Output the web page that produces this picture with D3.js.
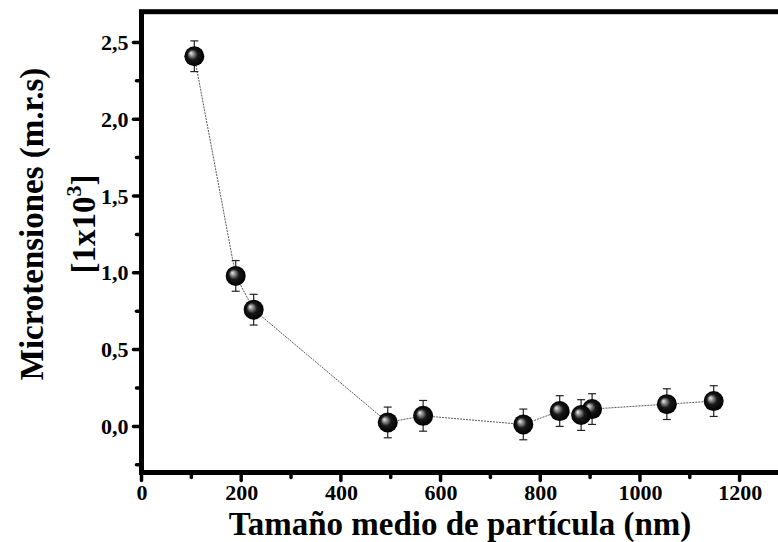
<!DOCTYPE html>
<html>
<head>
<meta charset="utf-8">
<script src="https://cdn.jsdelivr.net/npm/d3@7"></script>
<style>
  html, body { margin: 0; padding: 0; background: #fff; }
  svg { display: block; }
  text { font-family: "Liberation Serif", "Times New Roman", serif; font-weight: bold; fill: #000; }
</style>
</head>
<body>
<svg id="chart" width="778" height="542"></svg>
<script>
// Mean particle size (nm)
const particleSize = [106, 189, 225, 494, 565, 766, 839, 882, 904, 1054, 1148];
// Microstrain (r.m.s.), in units of 1x10^3
const microstrain = [2.41, 0.98, 0.76, 0.026, 0.069, 0.013, 0.10, 0.074, 0.113, 0.145, 0.165];
// Error bar half-widths
const microstrainErr = [0.1, 0.1, 0.1, 0.1, 0.1, 0.1, 0.1, 0.1, 0.1, 0.1, 0.1];

const xMajorTicks = [0, 200, 400, 600, 800, 1000, 1200];
const xMinorTicks = [100, 300, 500, 700, 900, 1100];
const yMajorTicks = [0, 0.5, 1.0, 1.5, 2.0, 2.5];
const yMinorTicks = [-0.25, 0.25, 0.75, 1.25, 1.75, 2.25];

const xTitle = "Tamaño medio de partícula (nm)";
const yTitleLine1 = "Microtensiones (m.r.s)";

const svg = d3.select("#chart");

const plot = { left: 141.5, right: 781.5, top: 11.7, bottom: 472.5 };

const x = d3.scaleLinear().domain([0, 1284]).range([plot.left, plot.right]);
const y = d3.scaleLinear().domain([-0.3, 2.7]).range([plot.bottom, plot.top]);

const points = particleSize.map((v, i) => ({ x: v, y: microstrain[i], e: microstrainErr[i] }));

// Sphere-like marker fill
const defs = svg.append("defs");
const grad = defs.append("radialGradient")
  .attr("id", "sphere")
  .attr("cx", "50%").attr("cy", "50%").attr("r", "50%")
  .attr("fx", "32%").attr("fy", "34%");
grad.append("stop").attr("offset", "0%").attr("stop-color", "#f0f0f0");
grad.append("stop").attr("offset", "15%").attr("stop-color", "#b0b0b0");
grad.append("stop").attr("offset", "52%").attr("stop-color", "#181818");
grad.append("stop").attr("offset", "100%").attr("stop-color", "#000");

// Connecting line
const line = d3.line().x(d => x(d.x)).y(d => y(d.y));
svg.append("path")
  .datum(points)
  .attr("d", line)
  .attr("fill", "none")
  .attr("stroke", "#444")
  .attr("stroke-width", 0.9)
  .attr("stroke-dasharray", "2,1");

// Error bars
const eb = svg.append("g").attr("stroke", "#222").attr("stroke-width", 1.2);
points.forEach(d => {
  eb.append("line").attr("x1", x(d.x)).attr("x2", x(d.x)).attr("y1", y(d.y - d.e)).attr("y2", y(d.y + d.e));
  eb.append("line").attr("x1", x(d.x) - 4).attr("x2", x(d.x) + 4).attr("y1", y(d.y + d.e)).attr("y2", y(d.y + d.e));
  eb.append("line").attr("x1", x(d.x) - 4).attr("x2", x(d.x) + 4).attr("y1", y(d.y - d.e)).attr("y2", y(d.y - d.e));
});

// Markers (drawn last-to-first so earlier points sit in front)
svg.append("g")
  .selectAll("circle")
  .data(points.slice().reverse())
  .join("circle")
  .attr("cx", d => x(d.x))
  .attr("cy", d => y(d.y))
  .attr("r", 10)
  .attr("fill", "url(#sphere)");

// Frame
const frame = svg.append("g").attr("stroke", "#000").attr("stroke-width", 5).attr("fill", "none");
frame.append("rect")
  .attr("x", plot.left).attr("y", plot.top)
  .attr("width", plot.right - plot.left).attr("height", plot.bottom - plot.top);

// Bottom axis
const xAxis = d3.axisBottom(x).tickValues(xMajorTicks).tickSize(0).tickPadding(0).tickFormat(d3.format("d"));
const gx = svg.append("g").attr("transform", `translate(0,${plot.bottom})`).call(xAxis);
gx.select(".domain").remove();
gx.selectAll(".tick text")
  .attr("y", 27.5)
  .attr("dy", 0)
  .style("font-size", "22px")
  .style("font-family", "'Liberation Serif', 'Times New Roman', serif")
  .style("font-weight", "bold");
const xt = svg.append("g").attr("stroke", "#000").attr("stroke-linecap", "round").attr("stroke-width", 3.5);
xMajorTicks.forEach(t => xt.append("line").attr("x1", x(t)).attr("x2", x(t)).attr("y1", plot.bottom).attr("y2", plot.bottom + 8));
xMinorTicks.forEach(t => xt.append("line").attr("x1", x(t)).attr("x2", x(t)).attr("y1", plot.bottom).attr("y2", plot.bottom + 5));

// Left axis
const commaFmt = d => d3.format(".1f")(d).replace(".", ",");
const yAxis = d3.axisLeft(y).tickValues(yMajorTicks).tickSize(0).tickPadding(0).tickFormat(commaFmt);
const gy = svg.append("g").attr("transform", `translate(${plot.left},0)`).call(yAxis);
gy.select(".domain").remove();
gy.selectAll(".tick text")
  .attr("x", -13)
  .attr("dy", "0.32em")
  .style("font-size", "22px")
  .style("font-family", "'Liberation Serif', 'Times New Roman', serif")
  .style("font-weight", "bold");
const yt = svg.append("g").attr("stroke", "#000").attr("stroke-linecap", "round").attr("stroke-width", 3.5);
yMajorTicks.forEach(t => yt.append("line").attr("x1", plot.left).attr("x2", plot.left - 8).attr("y1", y(t)).attr("y2", y(t)));
yMinorTicks.forEach(t => yt.append("line").attr("x1", plot.left).attr("x2", plot.left - 5).attr("y1", y(t)).attr("y2", y(t)));

// Axis titles
svg.append("text")
  .attr("x", 460)
  .attr("y", 535)
  .attr("text-anchor", "middle")
  .style("font-size", "33px")
  .text(xTitle);

const yTitle = svg.append("g").attr("transform", "translate(0,224) rotate(-90)");
yTitle.append("text")
  .attr("x", 0).attr("y", 43)
  .attr("text-anchor", "middle")
  .style("font-size", "33px")
  .text(yTitleLine1);
const l2 = yTitle.append("text")
  .attr("x", 0).attr("y", 95)
  .attr("text-anchor", "middle")
  .style("font-size", "33px");
l2.append("tspan").text("[1x10");
l2.append("tspan").attr("dy", -14).style("font-size", "22px").text("3");
l2.append("tspan").attr("dy", 14).text("]");
</script>
</body>
</html>
